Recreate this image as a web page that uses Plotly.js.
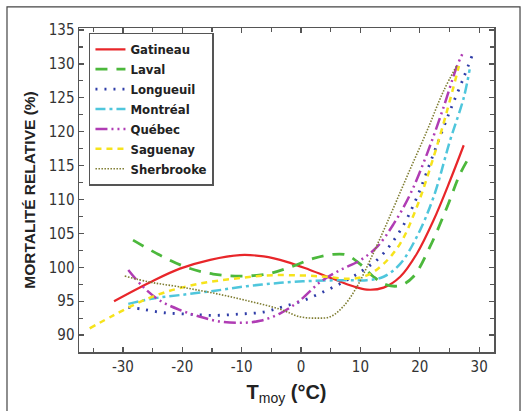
<!DOCTYPE html>
<html><head><meta charset="utf-8">
<script src="https://cdn.plot.ly/plotly-3.0.1.min.js"></script>
<style>html,body{margin:0;padding:0;background:#fff}#c{width:528px;height:411px}</style>
</head><body><div id="c"></div>
<script>
const xTicks = [-30, -20, -10, 0, 10, 20, 30];
const yTicks = [90, 95, 100, 105, 110, 115, 120, 125, 130, 135];

const gatineauX = [-31.5,-25.4,-20.4,-15.3,-10.3,-6.3,-2.4,1.5,5.4,8.8,11.1,13.9,16.7,19.5,22.3,25.1,27.4];
const gatineauY = [95.0,97.8,99.8,101.1,101.8,101.6,100.8,99.6,98.3,97.2,96.7,97.0,98.6,102.0,106.9,112.8,118.0];

const lavalX = [-28.3,-23.8,-19.3,-14.8,-10.3,-5.8,-1.9,2.1,5.4,7.7,9.9,12.2,14.4,16.7,18.9,21.7,24.6,26.8,28.5];
const lavalY = [104.0,101.8,100.0,99.0,98.7,99.0,100.0,101.3,101.9,101.8,100.5,98.6,97.4,97.3,98.6,103.0,108.9,113.8,116.5];

const longueuilX = [-29.1,-26.6,-23.2,-19.3,-14.8,-10.3,-6.3,-3.0,0.4,4.3,7.7,10.5,13.3,16.7,19.5,22.3,25.1,27.4,28.8];
const longueuilY = [94.1,93.8,93.3,93.1,92.9,93.1,93.4,94.2,95.1,96.6,98.1,99.6,101.5,105.4,110.3,116.7,123.1,128.0,131.2];

const montrealX = [-29.1,-24.9,-20.4,-14.8,-9.2,-3.5,2.1,7.7,11.1,13.9,16.7,19.5,22.3,25.1,27.4,28.4];
const montrealY = [94.6,95.4,95.9,96.5,97.2,97.7,98.0,98.1,98.1,98.6,100.5,104.5,110.3,118.7,125.0,129.2];

const quebecX = [-29.1,-26.6,-23.8,-20.4,-17.0,-13.7,-10.3,-6.9,-3.5,-0.2,3.2,6.6,9.9,12.8,15.6,18.4,21.2,24.0,26.2,27.4];
const quebecY = [99.6,97.1,95.1,93.7,92.7,92.0,91.8,92.1,93.2,95.1,97.8,99.6,101.0,103.0,106.4,110.8,116.7,123.6,129.5,131.9];

const saguenayX = [-35.6,-31.6,-27.1,-22.6,-17.0,-11.4,-5.8,-0.2,4.3,8.3,11.1,13.9,16.7,19.5,22.3,24.6,26.6];
const saguenayY = [91.0,92.9,94.9,96.4,97.6,98.3,98.8,98.8,98.6,98.3,98.8,100.5,103.5,108.9,116.2,123.1,129.7];

const sherbrookeX = [-29.7,-25.4,-20.4,-14.8,-9.2,-3.5,-0.2,2.6,4.9,7.1,9.4,11.6,14.4,17.8,21.2,24.0,26.2];
const sherbrookeY = [98.7,97.8,97.1,96.2,95.1,93.8,92.7,92.5,92.7,94.2,97.1,101.0,106.4,113.3,120.1,126.0,129.7];

const names = ['Gatineau','Laval','Longueuil','Montréal','Québec','Saguenay','Sherbrooke'];
const xs = [gatineauX, lavalX, longueuilX, montrealX, quebecX, saguenayX, sherbrookeX];
const ys = [gatineauY, lavalY, longueuilY, montrealY, quebecY, saguenayY, sherbrookeY];
const styles = [
  {color:'#e8262a', width:2.2, dash:'solid'},
  {color:'#4cb83c', width:2.8, dash:'12px,9px'},
  {color:'#2f3da8', width:2.8, dash:'2px,7px'},
  {color:'#4fc6dc', width:2.5, dash:'10px,4px,3px,4px'},
  {color:'#b03cb4', width:2.5, dash:'12px,4px,2px,4px,2px,4px'},
  {color:'#f6e31c', width:2.5, dash:'6px,5px'},
  {color:'#7f7d32', width:1.6, dash:'1.5px,1.5px'}
];

const traces = names.map((n,i)=>({
  type:'scatter', mode:'lines', name:n, x:xs[i], y:ys[i],
  line:Object.assign({shape:'spline', smoothing:1}, styles[i])
}));

const tickFamily = '"DejaVu Sans Condensed", "Liberation Sans Narrow", sans-serif';

const axisCommon = {
  showgrid:false, zeroline:false, showline:true, linecolor:'#555', linewidth:1.5,
  mirror:'allticks', ticks:'inside', ticklen:5, tickwidth:1.2, tickcolor:'#555',
  tickfont:{family:tickFamily, size:15, color:'#333'}
};

const layout = {
  width:528, height:411,
  margin:{l:79, r:34, t:28, b:59},
  paper_bgcolor:'#fff', plot_bgcolor:'#fff',
  showlegend:true,
  legend:{x:0.024, y:0.985, xanchor:'left', yanchor:'top', bgcolor:'#fff',
    bordercolor:'#555', borderwidth:1.5,
    font:{family:tickFamily, size:13, color:'#222', weight:'bold'},
    itemwidth:30, tracegroupgap:0},
  xaxis:Object.assign({}, axisCommon, {
    range:[-37.4, 32.5], tickvals:xTicks, ticktext:xTicks.map(String),
    minor:{dtick:5, tick0:0, ticks:'inside', ticklen:4, tickcolor:'#555'},
    title:{text:'<b>T</b><sub>moy</sub><b> (°C)</b>', font:{family:'"Liberation Sans", Arial, sans-serif', size:20, color:'#222'}, standoff:10}
  }),
  yaxis:Object.assign({}, axisCommon, {
    range:[87.5, 135.3], tickvals:yTicks, ticktext:yTicks.map(String),
    minor:{dtick:2.5, tick0:0, ticks:'inside', ticklen:4, tickcolor:'#555'},
    title:{text:'<b>MORTALITÉ RELATIVE (%)</b>', font:{family:'"Liberation Sans", Arial, sans-serif', size:15.5, color:'#222'}, standoff:9}
  }),
  shapes:[{type:'rect', xref:'paper', yref:'paper', x0:-0.1735, x1:1.0627, y0:-0.25, y1:1.065,
    line:{color:'#444', width:1.2}, fillcolor:'rgba(0,0,0,0)', layer:'below'}]
};

Plotly.newPlot('c', traces, layout, {displayModeBar:false, staticPlot:true});
</script>
</body></html>
